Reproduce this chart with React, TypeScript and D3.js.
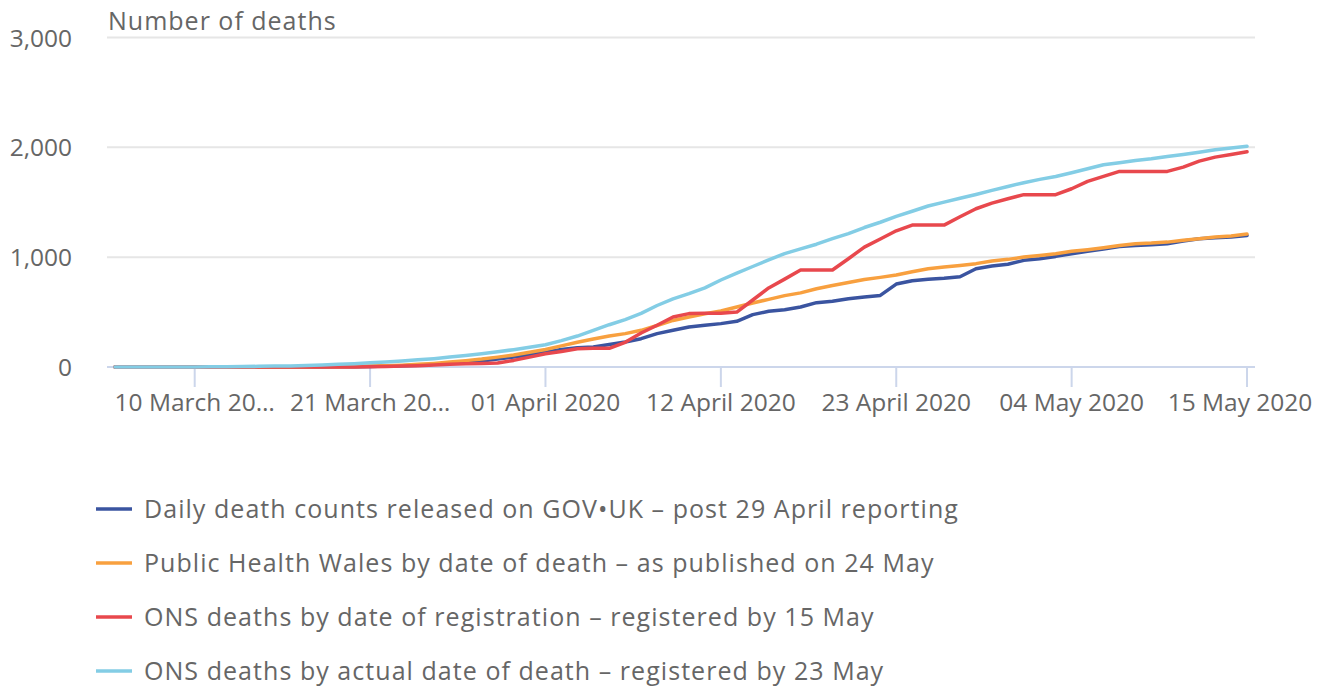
import React, { useRef, useEffect } from 'react';
import * as d3 from 'd3';

// one value per day, 5 March 2020 .. 15 May 2020
const startDate = new Date(2020, 2, 5);
const endDate = new Date(2020, 4, 16);
const dates = d3.timeDay.range(startDate, endDate);

const govUk = [
  0, 0, 0, 0, 0, 0, 0, 0, 0, 0, 0, 1, 1, 1, 2, 3,
  5, 8, 12, 17, 24, 33, 43, 55, 72, 90, 110, 134, 160, 176, 182, 204,
  228, 258, 304, 334, 364, 380, 395, 416, 477, 507, 522, 546, 586, 598, 622, 637,
  652, 755, 786, 798, 808, 822, 895, 920, 935, 971, 986, 1007, 1032, 1053, 1074, 1098,
  1107, 1114, 1123, 1147, 1168, 1177, 1183, 1198
];

const phw = [
  0, 0, 0, 0, 0, 0, 0, 0, 0, 0, 0, 1, 1, 2, 3, 5,
  8, 12, 17, 24, 33, 45, 58, 72, 90, 110, 135, 160, 192, 225, 255, 282,
  304, 334, 378, 424, 455, 485, 510, 546, 583, 616, 650, 675, 713, 742, 770, 797,
  816, 838, 868, 895, 910, 925, 941, 965, 980, 1001, 1016, 1032, 1053, 1068, 1086, 1107,
  1123, 1128, 1137, 1153, 1168, 1183, 1192, 1210
];

const onsRegistration = [
  0, 0, 0, 0, 0, 0, 0, 0, 0, 0, 0, 0, 0, 0, 0, 0,
  2, 5, 8, 12, 18, 25, 30, 33, 36, 60, 90, 120, 142, 166, 170, 170,
  225, 310, 380, 455, 486, 490, 490, 500, 610, 720, 800, 883, 883, 883, 986, 1092,
  1165, 1240, 1292, 1292, 1292, 1368, 1441, 1492, 1532, 1569, 1569, 1569, 1623, 1690, 1735, 1781,
  1781, 1781, 1781, 1820, 1874, 1911, 1935, 1960
];

const onsDeath = [
  0, 0, 0, 0, 1, 1, 2, 3, 4, 6, 8, 10, 14, 18, 24, 30,
  38, 46, 55, 65, 76, 90, 104, 120, 139, 158, 180, 203, 240, 282, 333, 385,
  432, 488, 560, 620, 668, 720, 792, 855, 915, 976, 1032, 1075, 1118, 1168, 1215, 1270,
  1318, 1372, 1418, 1466, 1501, 1536, 1571, 1608, 1644, 1678, 1708, 1735, 1769, 1805, 1841, 1860,
  1881, 1896, 1917, 1935, 1956, 1978, 1993, 2010
];

const seriesNames = [
  'Daily death counts released on GOV\u2022UK \u2013 post 29 April reporting',
  'Public Health Wales by date of death \u2013 as published on 24 May',
  'ONS deaths by date of registration \u2013 registered by 15 May',
  'ONS deaths by actual date of death \u2013 registered by 23 May'
];
const seriesValues = [govUk, phw, onsRegistration, onsDeath];
const seriesColors = ['#3a54a0', '#f8a03f', '#e8484d', '#83cde5'];

const tickDates = [
  new Date(2020, 2, 10), new Date(2020, 2, 21), new Date(2020, 3, 1), new Date(2020, 3, 12),
  new Date(2020, 3, 23), new Date(2020, 4, 4), new Date(2020, 4, 15)
];
const tickLabels = [
  '10 March 20\u2026', '21 March 20\u2026', '01 April 2020', '12 April 2020',
  '23 April 2020', '04 May 2020', '15 May 2020'
];
const yTicks = [0, 1000, 2000, 3000];

const W = 1325;
const H = 686;
const FONT = '"Open Sans", sans-serif';

const App = () => {
  const ref = useRef(null);

  useEffect(() => {
    const svg = d3.select(ref.current);
    svg.selectAll('*').remove();

    const left = 107, right = 1255, top = 37.5, bottom = 367;
    const half = 12 * 60 * 60 * 1000;

    const x = d3.scaleTime()
      .domain([new Date(+dates[0] - half), new Date(+dates[dates.length - 1] + half)])
      .range([left, right]);
    const y = d3.scaleLinear().domain([0, 3000]).range([bottom, top]);

    // gridlines
    svg.append('g')
      .selectAll('line')
      .data(yTicks.filter(d => d > 0))
      .join('line')
      .attr('x1', left).attr('x2', right)
      .attr('y1', d => y(d)).attr('y2', d => y(d))
      .attr('stroke', '#e6e6e6')
      .attr('stroke-width', 2);

    // y labels
    svg.append('g')
      .selectAll('text')
      .data(yTicks)
      .join('text')
      .attr('x', 72)
      .attr('y', d => y(d) + 9)
      .attr('text-anchor', 'end')
      .attr('font-family', FONT)
      .attr('font-size', 24.5)
      .attr('fill', '#666')
      .text(d => d3.format(',')(d));

    svg.append('text')
      .attr('x', 108)
      .attr('y', 30)
      .attr('font-family', FONT)
      .attr('font-size', 25)
      .attr('letter-spacing', 1)
      .attr('fill', '#666')
      .text('Number of deaths');

    // x axis
    svg.append('line')
      .attr('x1', left).attr('x2', right)
      .attr('y1', bottom).attr('y2', bottom)
      .attr('stroke', '#ccd6eb')
      .attr('stroke-width', 2);

    const ticks = svg.append('g');
    ticks.selectAll('line')
      .data(tickDates)
      .join('line')
      .attr('x1', d => x(d)).attr('x2', d => x(d))
      .attr('y1', bottom).attr('y2', bottom + 20)
      .attr('stroke', '#ccd6eb')
      .attr('stroke-width', 2);
    ticks.selectAll('text')
      .data(tickDates)
      .join('text')
      .attr('x', (d, i) => x(d) - (i === tickDates.length - 1 ? 7 : 0))
      .attr('y', 411)
      .attr('text-anchor', 'middle')
      .attr('font-family', FONT)
      .attr('font-size', 24.5)
      .attr('fill', '#666')
      .text((d, i) => tickLabels[i]);

    // lines
    const line = d3.line<number>()
      .x((d, i) => x(dates[i]))
      .y(d => y(d));

    svg.append('g')
      .selectAll('path')
      .data(seriesValues)
      .join('path')
      .attr('fill', 'none')
      .attr('stroke', (d, i) => seriesColors[i])
      .attr('stroke-width', 3.5)
      .attr('stroke-linejoin', 'round')
      .attr('stroke-linecap', 'round')
      .attr('d', d => line(d));

    // legend
    const legend = svg.append('g')
      .selectAll('g')
      .data(seriesNames)
      .join('g')
      .attr('transform', (d, i) => `translate(0,${509 + i * 54})`);
    legend.append('line')
      .attr('x1', 96).attr('x2', 132)
      .attr('stroke', (d, i) => seriesColors[i])
      .attr('stroke-width', 3.5);
    legend.append('text')
      .attr('x', 144)
      .attr('y', 9)
      .attr('font-family', FONT)
      .attr('font-size', 25)
      .attr('letter-spacing', 1.05)
      .attr('fill', '#666')
      .text(d => d);
  }, []);

  return (
    <div style={{ position: 'absolute', left: 0, top: 0 }}>
      <svg ref={ref} width={W} height={H} style={{ display: 'block', background: '#fff' }} />
    </div>
  );
};

export default App;
